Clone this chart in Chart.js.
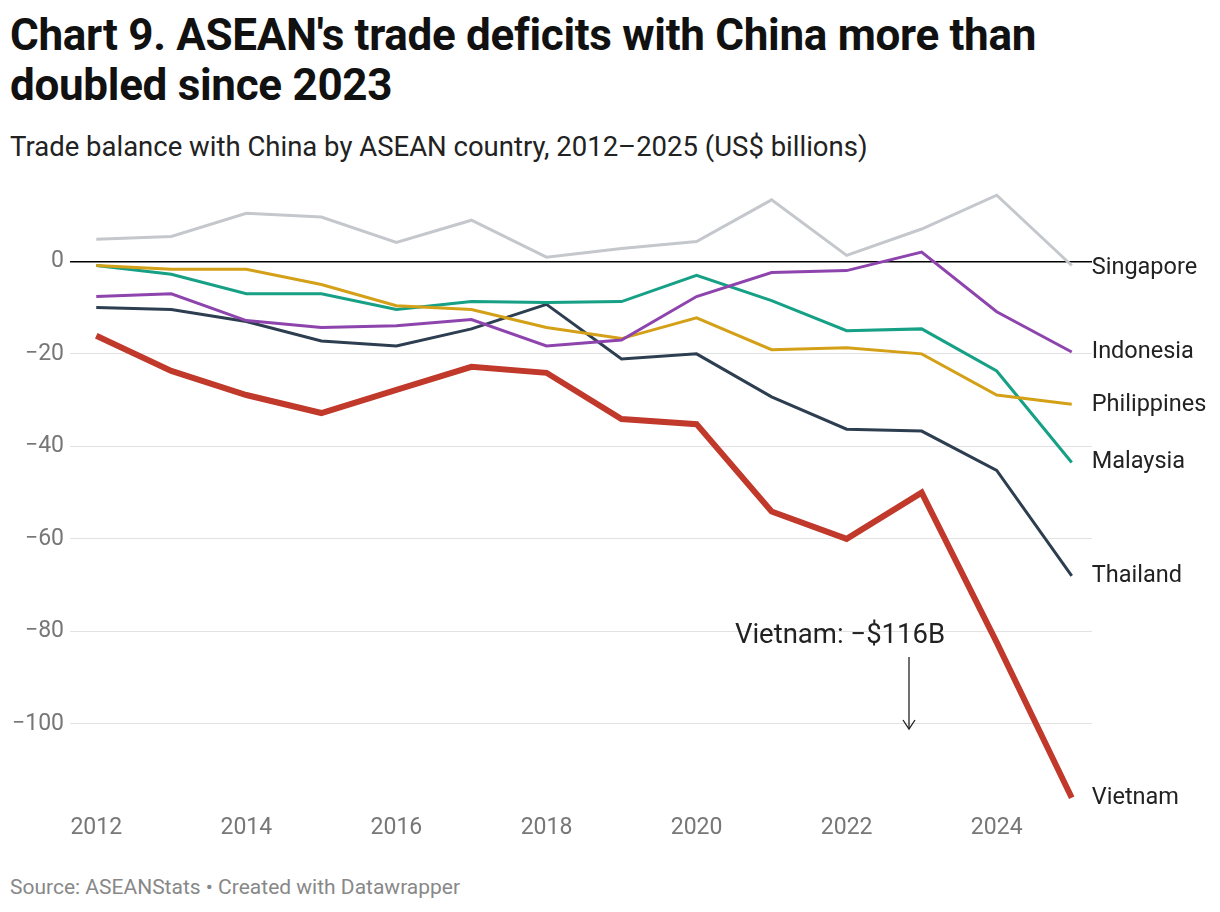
<!DOCTYPE html>
<html><head><meta charset="utf-8">
<script src="https://cdn.jsdelivr.net/npm/chart.js@4"></script>
<style>
body{margin:0;background:#fff;font-family:Roboto,sans-serif;width:1220px;height:912px;position:relative;overflow:hidden}
#t{position:absolute;left:10px;top:10px;font-size:44px;font-weight:700;line-height:50px;color:#111;letter-spacing:-0.3px}
#s{position:absolute;left:10px;top:130px;font-size:27.5px;color:#222}
#src{position:absolute;left:10px;top:875px;font-size:21px;color:#888}
#w{position:absolute;left:0;top:170px;width:1220px;height:676px}
</style></head><body>
<div id="t">Chart 9. ASEAN's trade deficits with China more than<br>doubled since 2023</div>
<div id="s">Trade balance with China by ASEAN country, 2012–2025 (US$ billions)</div>
<div id="w"><canvas id="c"></canvas></div>
<div id="src">Source: ASEANStats • Created with Datawrapper</div>
<script>
const years=[2012,2013,2014,2015,2016,2017,2018,2019,2020,2021,2022,2023,2024,2025];
const singapore=[4.8,5.4,10.4,9.6,4.1,8.9,0.9,2.8,4.3,13.3,1.3,7,14.3,-0.9];
const indonesia=[-7.6,-7,-12.8,-14.3,-13.9,-12.6,-18.3,-17,-7.6,-2.4,-2,2,-10.9,-19.6];
const philippines=[-0.9,-1.7,-1.7,-5,-9.6,-10.4,-14.3,-16.7,-12.2,-19.1,-18.7,-20,-28.9,-30.9];
const malaysia=[-0.9,-2.8,-7,-7,-10.4,-8.7,-8.9,-8.7,-3,-8.5,-15,-14.6,-23.7,-43.5];
const thailand=[-10,-10.4,-13,-17.2,-18.3,-14.6,-9.3,-21.1,-20,-29.3,-36.3,-36.7,-45.2,-68];
const vietnam=[-16.1,-23.7,-28.9,-32.8,-27.8,-22.8,-24.1,-34.1,-35.2,-54.1,-60,-50,-82.4,-116];
const yTicks=[0,-20,-40,-60,-80,-100];
const xTicks=[2012,2014,2016,2018,2020,2022,2024];
const series=[
 ["Singapore",singapore,"#c4c8cc",3],
 ["Indonesia",indonesia,"#8e44ad",3],
 ["Philippines",philippines,"#d4a017",3],
 ["Malaysia",malaysia,"#16a085",3],
 ["Thailand",thailand,"#2c3e50",3],
 ["Vietnam",vietnam,"#c0392b",6]];
const labelOffsets={Singapore:3,Indonesia:0,Philippines:1,Malaysia:0,Thailand:0,Vietnam:0};
const endLabels={id:'end',afterDatasetsDraw(ch){
 const c=ch.ctx;c.save();c.font='23.5px Roboto';c.fillStyle='#222';c.textBaseline='middle';
 ch.data.datasets.forEach((d,i)=>{const m=ch.getDatasetMeta(i);const p=m.data[m.data.length-1];
  c.fillText(d.label,p.x+20,p.y+labelOffsets[d.label]);});
 c.textAlign='center';c.textBaseline='alphabetic';c.font='27.5px Roboto';
 c.fillText('Vietnam: −$116B',840,643-170);
 c.strokeStyle='#222';c.lineWidth=1.3;c.beginPath();c.moveTo(909,657-170);c.lineTo(909,729-170);c.stroke();
 c.beginPath();c.moveTo(903,720-170);c.lineTo(909,729-170);c.lineTo(915,720-170);c.stroke();
 c.restore();}};
new Chart(document.getElementById('c'),{type:'line',
 data:{datasets:series.map(s=>({label:s[0],data:years.map((y,i)=>({x:y,y:s[1][i]})),borderColor:s[2],borderWidth:s[3],pointRadius:0,tension:0,order:s[0]==="Vietnam"?-1:0}))},
 options:{responsive:true,maintainAspectRatio:false,animation:false,
  layout:{padding:{top:22,right:128,left:0,bottom:0}},
  plugins:{legend:{display:false},tooltip:{enabled:false}},
  scales:{
   x:{type:'linear',min:2011.65,max:2025.27,grid:{display:false},border:{display:false},
    afterBuildTicks:a=>{a.ticks=xTicks.map(v=>({value:v}));},
    ticks:{callback:v=>String(v),color:'#777',font:{family:'Roboto',size:23},padding:4,maxRotation:0}},
   y:{min:-117,max:15,border:{display:false},
    afterBuildTicks:a=>{a.ticks=yTicks.map(v=>({value:v}));},
    afterFit:a=>{a.width=70;},
    grid:{color:c=>c.tick&&c.tick.value===0?'#000':'#e2e2e2',lineWidth:c=>c.tick&&c.tick.value===0?1.5:1,drawTicks:false},
    ticks:{callback:v=>v<0?'−'+Math.abs(v):String(v),color:'#777',font:{family:'Roboto',size:23},padding:6}}}},
 plugins:[endLabels]});
</script></body></html>
